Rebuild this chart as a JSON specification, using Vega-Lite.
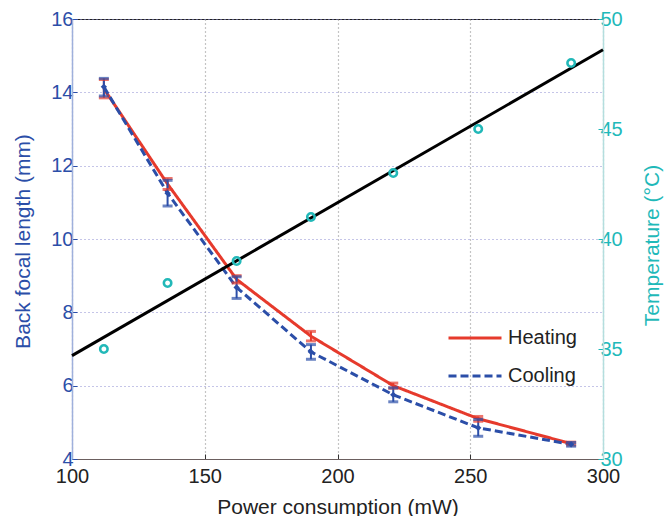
{
  "$schema": "https://vega.github.io/schema/vega-lite/v6.json",
  "width": 531,
  "height": 440,
  "autosize": {"type": "none"},
  "padding": {"left": 72, "top": 19, "right": 61, "bottom": 57},
  "background": "white",
  "config": {
    "font": "Liberation Sans",
    "view": {"stroke": "#222", "strokeWidth": 1},
    "axis": {"labelFont": "Liberation Sans", "titleFont": "Liberation Sans", "titleFontWeight": "normal", "labelFontSize": 20, "titleFontSize": 21}
  },
  "datasets": {
    "bfl": [
      {"power": 112, "mode": "Heating", "bfl": 14.1, "lo": 13.85, "hi": 14.35},
      {"power": 136, "mode": "Heating", "bfl": 11.5, "lo": 11.35, "hi": 11.65},
      {"power": 162, "mode": "Heating", "bfl": 8.9, "lo": 8.8, "hi": 9.0},
      {"power": 190, "mode": "Heating", "bfl": 7.35, "lo": 7.22, "hi": 7.48},
      {"power": 221, "mode": "Heating", "bfl": 6.0, "lo": 5.93, "hi": 6.07},
      {"power": 253, "mode": "Heating", "bfl": 5.1, "lo": 5.03, "hi": 5.16},
      {"power": 288, "mode": "Heating", "bfl": 4.42, "lo": 4.38, "hi": 4.46},
      {"power": 112, "mode": "Cooling", "bfl": 14.15, "lo": 13.9, "hi": 14.38},
      {"power": 136, "mode": "Cooling", "bfl": 11.25, "lo": 10.9, "hi": 11.6},
      {"power": 162, "mode": "Cooling", "bfl": 8.68, "lo": 8.38, "hi": 8.97},
      {"power": 190, "mode": "Cooling", "bfl": 6.92, "lo": 6.72, "hi": 7.12},
      {"power": 221, "mode": "Cooling", "bfl": 5.75, "lo": 5.56, "hi": 5.94},
      {"power": 253, "mode": "Cooling", "bfl": 4.85, "lo": 4.62, "hi": 5.08},
      {"power": 288, "mode": "Cooling", "bfl": 4.4, "lo": 4.35, "hi": 4.45}
    ],
    "temp": [
      {"power": 112, "temp": 35},
      {"power": 136, "temp": 38},
      {"power": 162, "temp": 39},
      {"power": 190, "temp": 41},
      {"power": 221, "temp": 43},
      {"power": 253, "temp": 45},
      {"power": 288, "temp": 48}
    ],
    "fit": [
      {"power": 100, "fit": 34.7},
      {"power": 300, "fit": 48.6}
    ]
  },
  "encoding": {
    "x": {
      "field": "power", "type": "quantitative",
      "scale": {"domain": [100, 300], "nice": false, "zero": false},
      "axis": {
        "title": "Power consumption (mW)",
        "values": [100, 150, 200, 250, 300],
        "labelFlush": false,
        "grid": true, "gridColor": "#8a8a8a", "gridDash": [1, 3], "gridWidth": 1.2,
        "domainColor": "#6b5f5f", "tickColor": "#333", "tickSize": -5,
        "labelColor": "#222", "labelPadding": 12, "titleColor": "#222",
        "titleX": 265.5, "titleY": 54, "titleBaseline": "alphabetic", "titleAlign": "center"
      }
    }
  },
  "layer": [
    {
      "data": {"name": "bfl"},
      "layer": [
        {
          "mark": {"type": "line", "strokeWidth": 3},
          "encoding": {
            "y": {
              "field": "bfl", "type": "quantitative",
              "scale": {"domain": [4, 16], "nice": false, "zero": false},
              "axis": {
                "title": "Back focal length (mm)",
                "values": [4, 6, 8, 10, 12, 14, 16],
                "grid": true, "gridColor": "#8c8cd2", "gridDash": [1, 3], "gridWidth": 1.2,
                "domainColor": "#9fb0dc", "domainWidth": 1.5, "tickColor": "#2b4ea8", "tickSize": -5,
                "labelColor": "#2b4ea8", "labelPadding": 4, "titleColor": "#2b4ea8",
                "titleX": -49, "titleY": 222, "titleAngle": 270, "titleAlign": "center", "titleBaseline": "middle"
              }
            },
            "color": {
              "field": "mode", "type": "nominal",
              "scale": {"domain": ["Heating", "Cooling"], "range": ["#e63a2c", "#2b4ea8"]},
              "legend": {
                "title": null, "orient": "none", "legendX": 375, "legendY": 291,
                "symbolType": "stroke", "symbolSize": 2809, "symbolStrokeWidth": 3,
                "labelFontSize": 20, "labelColor": "#222", "labelOffset": 5, "rowPadding": 0
              }
            },
            "strokeDash": {
              "field": "mode", "type": "nominal",
              "scale": {"domain": ["Heating", "Cooling"], "range": [[1, 0], [8, 4]]},
              "legend": {
                "title": null, "orient": "none", "legendX": 375, "legendY": 291,
                "symbolType": "stroke", "symbolSize": 2809, "symbolStrokeWidth": 3,
                "labelFontSize": 20, "labelColor": "#222", "labelOffset": 5, "rowPadding": 0
              }
            }
          }
        },
        {
          "mark": {"type": "rule", "strokeWidth": 2},
          "encoding": {
            "y": {"field": "lo", "type": "quantitative", "title": "Back focal length (mm)"},
            "y2": {"field": "hi"},
            "color": {"field": "mode", "type": "nominal", "legend": null}
          }
        },
        {
          "mark": {"type": "tick", "orient": "horizontal", "size": 10, "thickness": 3},
          "encoding": {
            "y": {"field": "lo", "type": "quantitative", "title": "Back focal length (mm)"},
            "color": {"field": "mode", "type": "nominal", "legend": null}
          }
        },
        {
          "mark": {"type": "tick", "orient": "horizontal", "size": 10, "thickness": 3},
          "encoding": {
            "y": {"field": "hi", "type": "quantitative", "title": "Back focal length (mm)"},
            "color": {"field": "mode", "type": "nominal", "legend": null}
          }
        },
        {
          "transform": [{"filter": "datum.mode === 'Cooling'"}],
          "mark": {"type": "point", "shape": "diamond", "filled": true, "size": 40, "color": "#2b4ea8", "opacity": 1},
          "encoding": {
            "y": {"field": "bfl", "type": "quantitative", "title": "Back focal length (mm)"}
          }
        }
      ]
    },
    {
      "layer": [
        {
          "data": {"name": "fit"},
          "mark": {"type": "line", "color": "#000", "strokeWidth": 3},
          "encoding": {
            "y": {
              "field": "fit", "type": "quantitative",
              "scale": {"domain": [30, 50], "nice": false, "zero": false},
              "axis": {
                "orient": "right",
                "title": "Temperature (°C)",
                "values": [30, 35, 40, 45, 50],
                "grid": false,
                "domainColor": "#b4dede", "domainWidth": 1.5, "tickColor": "#1fb9b9", "tickSize": -5,
                "labelColor": "#1fb9b9", "labelPadding": 2, "titleColor": "#1fb9b9",
                "titleX": 49, "titleY": 226, "titleAngle": 270, "titleAlign": "center", "titleBaseline": "middle"
              }
            }
          }
        },
        {
          "data": {"name": "temp"},
          "mark": {"type": "point", "filled": false, "size": 55, "strokeWidth": 2.6, "color": "#22b8b8", "opacity": 1},
          "encoding": {
            "y": {"field": "temp", "type": "quantitative", "title": "Temperature (°C)"}
          }
        }
      ]
    }
  ],
  "resolve": {"scale": {"y": "independent"}}
}
